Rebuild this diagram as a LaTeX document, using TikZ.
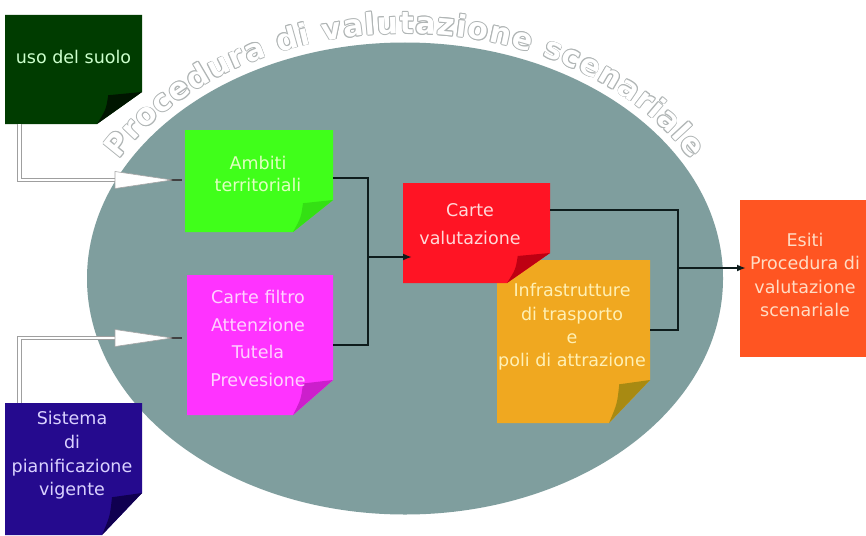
\documentclass[tikz,border=0pt]{standalone}
\usepackage{fontspec}
\setmainfont{DejaVu Sans}
\usetikzlibrary{calc,arrows.meta,decorations.text}
\definecolor{ellc}{HTML}{7F9E9E}
\definecolor{dkg}{HTML}{003C00}
\definecolor{dkgf}{HTML}{001500}
\definecolor{bgr}{HTML}{40FF1A}
\definecolor{bgrf}{HTML}{34E014}
\definecolor{mag}{HTML}{FF33FF}
\definecolor{magf}{HTML}{CC1FCC}
\definecolor{ind}{HTML}{250A8E}
\definecolor{indf}{HTML}{100050}
\definecolor{rd}{HTML}{FF1424}
\definecolor{rdf}{HTML}{BE0012}
\definecolor{org}{HTML}{F0A820}
\definecolor{orgf}{HTML}{A88A12}
\definecolor{esc}{HTML}{FF5522}
\definecolor{usot}{HTML}{CCFFCC}
\definecolor{ambt}{HTML}{E0FFC0}
\definecolor{filtt}{HTML}{FFD2FF}
\definecolor{sist}{HTML}{DAD2FF}
\definecolor{cvt}{HTML}{FFD8D8}
\definecolor{inft}{HTML}{FFF0B4}
\definecolor{esit}{HTML}{FFDCC4}
\definecolor{arcg}{HTML}{B0B5B5}
\definecolor{connc}{HTML}{0E1C1C}
\newcommand\arcfnt{\fontsize{30}{30}\selectfont\bfseries}
\newcommand\notebox[5]{%
  \fill[#2] (#1.north west) -- (#1.north east) -- ([yshift=#5]#1.south east)
    -- ([xshift=-#4]#1.south east) -- (#1.south west) -- cycle;
  \fill[#3] ([xshift=-#4]#1.south east)
    .. controls ([shift={(-0.8*#4,0.45*#5)}]#1.south east) .. ([shift={(-0.75*#4,0.9*#5)}]#1.south east)
    -- ([yshift=#5]#1.south east) -- cycle;}
\newcommand\arcpass[3]{%
  \path[shift={(#1pt,#2pt)},decorate,decoration={text along path,
      text={|\arcfnt|Procedura di valutazione scenariale},
      text align=fit to path,text color=#3}]
    ($(405,-278.5)+(151:327 and 245)$) arc[start angle=151,end angle=29,x radius=327,y radius=245];}
\begin{document}
\begin{tikzpicture}[x=1pt,y=1pt,
  boxn/.style={rectangle,inner sep=0pt,outer sep=0pt,draw=none},
  txt/.style={align=center,inner sep=0pt,font=\fontsize{17.5}{23.5}\selectfont},
  conn/.style={draw=connc,line width=2pt},
  arr/.style={conn,-{Latex[length=9pt,width=7pt]}},
  dbl/.style={draw=gray!75,double=white,double distance=2.6pt,line width=0.9pt},
  tri/.style={fill=white,draw=gray!70,line width=0.6pt,line join=round},
  tipline/.style={draw=black!75,line width=1.3pt}]
\useasboundingbox (0,0) rectangle (866,-535);
\clip (0,0) rectangle (866,-535);
\fill[white] (0,0) rectangle (866,-535);
% main ellipse
\fill[ellc] (405,-278.5) ellipse[x radius=318,y radius=236];
% outlined arc title
\foreach \dx/\dy in {0.8/0,-0.8/0,0/0.8,0/-0.8,0.57/0.57,-0.57/0.57,0.57/-0.57,-0.57/-0.57}{\arcpass{\dx}{\dy}{arcg}}
\arcpass{0}{0}{white}
% box frames
\node[boxn,minimum width=137pt,minimum height=109pt] (uso) at (73.5,-69.5) {};
\node[boxn,minimum width=148pt,minimum height=102pt] (amb) at (259,-181) {};
\node[boxn,minimum width=146pt,minimum height=140pt] (filt) at (260,-345) {};
\node[boxn,minimum width=137pt,minimum height=132pt] (sis) at (73.5,-469) {};
\node[boxn,minimum width=147pt,minimum height=100pt] (cv) at (476.5,-233) {};
\node[boxn,minimum width=153pt,minimum height=163pt] (inf) at (573.5,-341.5) {};
\node[boxn,minimum width=130pt,minimum height=157pt] (esi) at (805,-278.5) {};
\notebox{uso}{dkg}{dkgf}{45}{32}
\notebox{amb}{bgr}{bgrf}{40}{32}
\notebox{filt}{mag}{magf}{40}{35}
\notebox{sis}{ind}{indf}{40}{42}
\notebox{inf}{org}{orgf}{41}{43}
\notebox{cv}{rd}{rdf}{43}{30}
\fill[esc] (esi.north west) rectangle (esi.south east);
% texts
\node[txt,text=usot] (usoT) at ([yshift=12.5]uso.center) {uso del suolo};
\node[txt,text=ambt,font=\fontsize{17.5}{22}\selectfont] (ambT) at ([shift={(-1,7)}]amb.center) {Ambiti\\territoriali};
\node[txt,text=filtt,font=\fontsize{17.5}{27.7}\selectfont] (filtT) at ([shift={(-2,6.5)}]filt.center) {Carte filtro\\Attenzione\\Tutela\\Prevesione};
\node[txt,text=sist,font=\fontsize{17.5}{23.7}\selectfont] (sisT) at ([shift={(-1.5,13.5)}]sis.center) {Sistema\\di\\pianificazione\\vigente};
\node[txt,text=cvt,font=\fontsize{17.5}{28}\selectfont] (cvT) at ([shift={(-6.5,9)}]cv.center) {Carte\\valutazione};
\node[txt,text=inft,font=\fontsize{17.5}{23.3}\selectfont] (infT) at ([shift={(-1.5,14.5)}]inf.center) {Infrastrutture\\di trasporto\\e\\poli di attrazione};
\node[txt,text=esit,font=\fontsize{17.5}{23.3}\selectfont] (esiT) at ([shift={(0,3.5)}]esi.center) {Esiti\\Procedura di\\valutazione\\scenariale};
% input double-line connectors with white arrow heads
\coordinate (a1) at (115,-180);
\coordinate (t1) at ([shift={(-3,1)}]amb.west);
\draw[dbl] ([xshift=14.5]uso.south west) |- (a1);
\draw[tipline] ($(a1)!0.6!(t1)$) -- (t1);
\filldraw[tri] ($(a1)+(0,8.5)$) -- ($(t1)+(-10,0)$) -- ($(a1)+(0,-8.5)$) -- cycle;
\coordinate (a2) at (115,-338);
\coordinate (t2) at ([shift={(-5,7)}]filt.west);
\draw[dbl] ([xshift=14.5]sis.north west) |- (a2);
\draw[tipline] ($(a2)!0.6!(t2)$) -- (t2);
\filldraw[tri] ($(a2)+(0,8.5)$) -- ($(t2)+(-10,0)$) -- ($(a2)+(0,-8.5)$) -- cycle;
% black connectors
\coordinate (j1) at (368,-257);
\draw[conn] ([yshift=3]amb.east) -| (j1);
\draw[conn] (filt.east) -| (j1);
\draw[arr] (j1) -- ([xshift=9]cv.west |- j1);
\coordinate (j2) at (678,-268);
\draw[conn] ([yshift=23]cv.east) -| (j2);
\draw[conn] ([yshift=11.5]inf.east) -| (j2);
\draw[arr] (j2) -- ([xshift=6]esi.west |- j2);
\end{tikzpicture}
\end{document}
